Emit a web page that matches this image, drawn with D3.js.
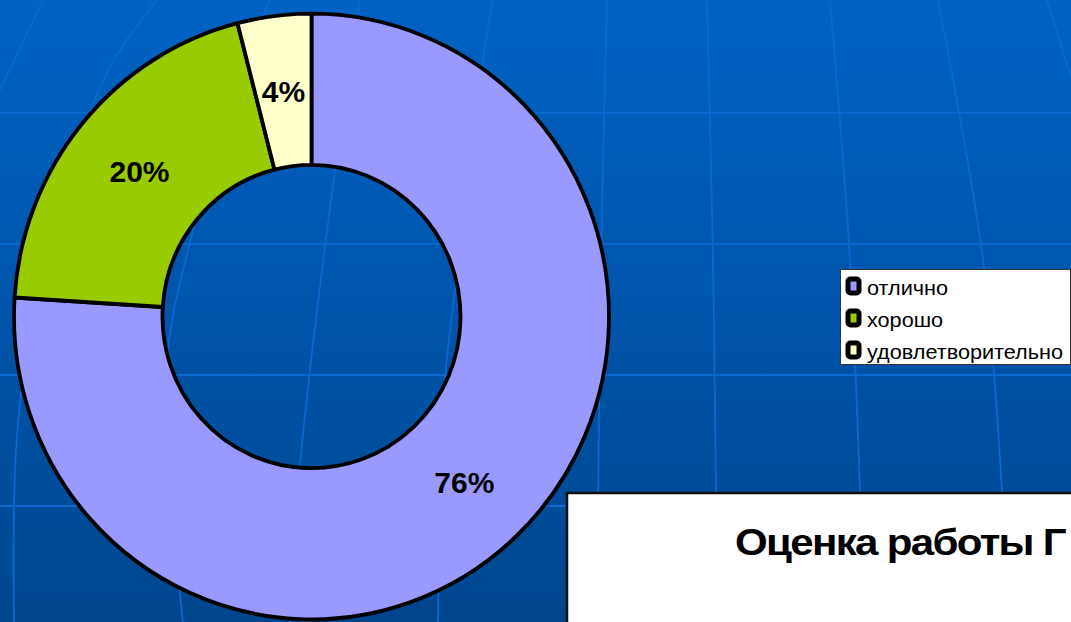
<!DOCTYPE html>
<html><head><meta charset="utf-8">
<script src="https://cdn.jsdelivr.net/npm/d3@7"></script>
<style>html,body{margin:0;padding:0;overflow:hidden;background:#0057B0}</style>
</head><body><svg id="c" width="1071" height="622"></svg>
<script>
const categories = ["отлично", "хорошо", "удовлетворительно"];
const values = [76, 20, 4];
const labels = ["76%", "20%", "4%"];
const colors = ["#9999FF", "#99CC00", "#FFFFCC"];
const titleText = "Оценка работы Г";

// background decoration (globe-like grid)
const gridRows = [113, 244, 375, 506];
const meridians = [
  [[43,0],[0,90]],
  [[157,0],[110,67],[60,200],[30,330],[16,450],[14,622]],
  [[270,0],[225,110],[193,230],[168,350],[170,480],[183,622]],
  [[360,0],[335,170],[300,465],[290,622]],
  [[493,0],[483,60],[455,290],[445,380],[438,622]],
  [[607,0],[601,260],[597,622]],
  [[707,0],[713,260],[716,490],[718,622]],
  [[830,0],[850,260],[860,490],[864,622]],
  [[938,0],[983,260],[1002,490],[1008,622]],
  [[1047,0],[1075,90]]
];

const W = 1071, H = 622;
const svg = d3.select("#c");
const defs = svg.append("defs");
const grad = defs.append("linearGradient").attr("id","bg").attr("x1",0).attr("y1",0).attr("x2",0).attr("y2",1);
grad.append("stop").attr("offset","0%").attr("stop-color","#0062C4");
grad.append("stop").attr("offset","55%").attr("stop-color","#0053A8");
grad.append("stop").attr("offset","100%").attr("stop-color","#00468E");
svg.append("rect").attr("width",W).attr("height",H).attr("fill","url(#bg)");

const gridG = svg.append("g").attr("stroke","#0A69CF").attr("stroke-width",2.2).attr("fill","none");
gridG.selectAll("line").data(gridRows).join("line")
  .attr("x1",0).attr("x2",W).attr("y1",d=>d).attr("y2",d=>d);
const lineGen = d3.line().curve(d3.curveCatmullRom);
gridG.selectAll("path").data(meridians).join("path").attr("d",lineGen).attr("stroke-width",1.8);

// donut
const cx = 311.5, cy = 316.5, rOuter = 297.5, rInner = 149, sy = 1.018;
const pie = d3.pie().sort(null).value(d=>d).startAngle(0).endAngle(2*Math.PI);
const arcs = pie(values);
const arc = d3.arc().innerRadius(rInner).outerRadius(rOuter);
const donut = svg.append("g").attr("transform",`translate(${cx},${cy}) scale(1,${sy})`);
donut.selectAll("path").data(arcs).join("path")
  .attr("d",arc)
  .attr("fill",(d,i)=>colors[i])
  .attr("stroke","#000").attr("stroke-width",3.8).attr("stroke-linejoin","round");

const labelArc = d3.arc().innerRadius((rInner+rOuter)/2).outerRadius((rInner+rOuter)/2);
svg.append("g").selectAll("text").data(arcs).join("text")
  .attr("x",d=>cx+labelArc.centroid(d)[0])
  .attr("y",d=>cy+labelArc.centroid(d)[1]*sy)
  .attr("dy","0.36em")
  .attr("text-anchor","middle")
  .attr("font-family","Arial, 'Liberation Sans', sans-serif")
  .attr("font-weight","bold").attr("font-size",30).attr("fill","#000")
  .text((d,i)=>labels[i]);

// legend
const lg = svg.append("g");
lg.append("rect").attr("x",840.5).attr("y",269.5).attr("width",230).attr("height",95)
  .attr("fill","#fff").attr("stroke","#333").attr("stroke-width",1);
const rowY = d3.scalePoint().domain(categories).range([286,350]);
const items = lg.selectAll("g.it").data(categories).join("g").attr("class","it");
items.append("rect")
  .attr("x",848).attr("y",d=>rowY(d)-7).attr("width",11).attr("height",14).attr("rx",2.5)
  .attr("fill",(d,i)=>colors[i]).attr("stroke","#000").attr("stroke-width",5);
const lt = items.append("text")
  .attr("x",867).attr("y",d=>rowY(d)+9)
  .attr("font-family","Arial, 'Liberation Sans', sans-serif")
  .attr("font-size",21).attr("fill","#000")
  .text(d=>d);
let maxLen = 0;
lt.each(function(){ maxLen = Math.max(maxLen, this.getComputedTextLength()); });
const stretch = 196 / maxLen;
lt.each(function(){ const l = this.getComputedTextLength(); d3.select(this).attr("textLength", l*stretch).attr("lengthAdjust","spacingAndGlyphs"); });

// title box
const tg = svg.append("g");
tg.append("rect").attr("x",567).attr("y",493).attr("width",540).attr("height",160)
  .attr("fill","#fff").attr("stroke","#111").attr("stroke-width",2.5);
tg.append("text").attr("x",735).attr("y",555)
  .attr("font-family","Arial, 'Liberation Sans', sans-serif")
  .attr("font-weight","bold").attr("font-size",37).attr("fill","#000")
  .attr("letter-spacing",-1.5)
  .attr("textLength",330).attr("lengthAdjust","spacingAndGlyphs")
  .text(titleText);
</script>
</body></html>
